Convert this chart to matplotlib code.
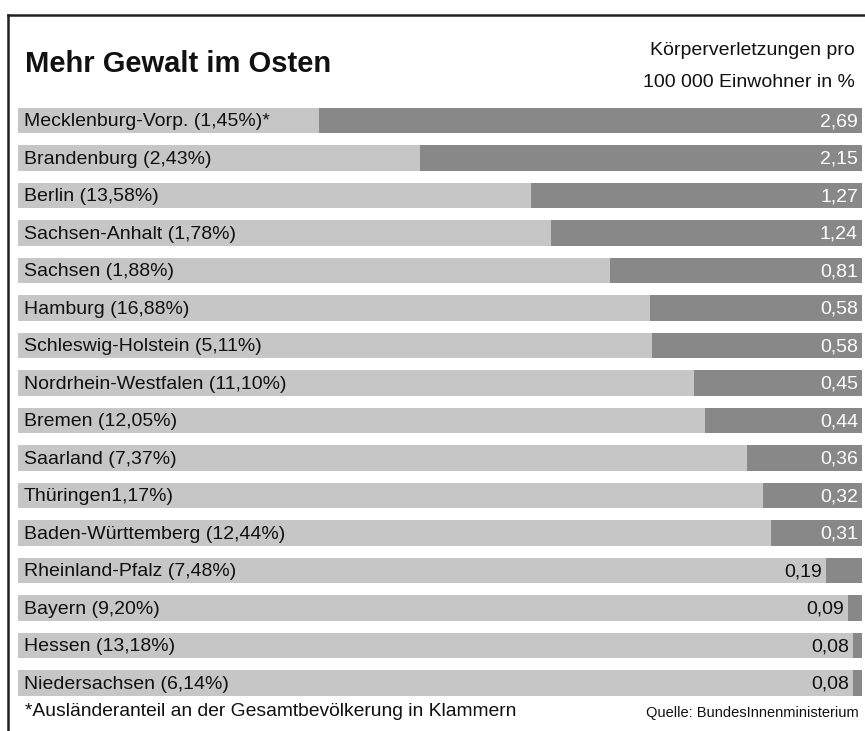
import matplotlib
matplotlib.use("Agg")
import matplotlib.pyplot as plt

plt.rcParams["font.family"] = ["Liberation Sans", "DejaVu Sans"]

# Data
states = [
    "Mecklenburg-Vorp. (1,45%)*", "Brandenburg (2,43%)", "Berlin (13,58%)",
    "Sachsen-Anhalt (1,78%)", "Sachsen (1,88%)", "Hamburg (16,88%)",
    "Schleswig-Holstein (5,11%)", "Nordrhein-Westfalen (11,10%)", "Bremen (12,05%)",
    "Saarland (7,37%)", "Thüringen1,17%)", "Baden-Württemberg (12,44%)",
    "Rheinland-Pfalz (7,48%)", "Bayern (9,20%)", "Hessen (13,18%)",
    "Niedersachsen (6,14%)",
]
values = [2.69, 2.15, 1.27, 1.24, 0.81, 0.58, 0.58, 0.45, 0.44, 0.36, 0.32,
          0.31, 0.19, 0.09, 0.08, 0.08]
# lengths of the dark bars as drawn in the original (same unit, not exactly to scale)
bar_len = [2.69, 2.19, 1.64, 1.54, 1.25, 1.05, 1.04, 0.83, 0.78, 0.57, 0.49,
           0.45, 0.18, 0.07, 0.045, 0.045]

light = "#c6c6c6"
dark = "#888888"
full = 4.18  # width of the light background bars

W, H = 865, 731
fig = plt.figure(figsize=(W / 100, H / 100), dpi=100)
fig.patch.set_facecolor("white")

# axes placed in pixel terms: bars from x=18 to x=862, rows from y=101.75 to 701.75
ax = fig.add_axes([18 / W, (H - 701.75) / H, 844 / W, 600 / H])
n = len(states)
ypos = list(range(n))
ax.barh(ypos, [full] * n, height=0.667, color=light, left=0)
ax.barh(ypos, bar_len, height=0.667, color=dark, left=0)
ax.set_xlim(full, 0)
ax.set_ylim(n - 0.5, -0.5)
ax.axis("off")

for i, (s, v, b) in enumerate(zip(states, values, bar_len)):
    ax.text(full - 0.03, i + 0.03, s, ha="left", va="center", fontsize=14, color="#111111")
    txt = f"{v:.2f}".replace(".", ",")
    if b > 0.3:
        ax.text(0.02, i + 0.03, txt, ha="right", va="center", fontsize=14, color="white")
    else:
        ax.text(b + 0.02, i + 0.03, txt, ha="right", va="center", fontsize=14, color="#111111")

# header
fig.text(25 / W, 1 - 72 / H, "Mehr Gewalt im Osten", fontsize=21, fontweight="bold",
         ha="left", va="baseline", color="#111111")
fig.text(855 / W, 1 - 55 / H, "Körperverletzungen pro", fontsize=14, ha="right",
         va="baseline", color="#111111")
fig.text(855 / W, 1 - 87 / H, "100 000 Einwohner in %", fontsize=14, ha="right",
         va="baseline", color="#111111")

# footer
fig.text(25 / W, 1 - 711 / H, "*Ausländeranteil an der Gesamtbevölkerung in Klammern",
         fontsize=13.9, ha="left", va="center", color="#111111")
fig.text(859 / W, 1 - 713 / H, "Quelle: BundesInnenministerium", fontsize=10.5,
         ha="right", va="center", color="#111111")

# frame lines (top and left)
fig.add_artist(plt.Line2D([8 / W, 1], [1 - 15 / H, 1 - 15 / H], color="#222222", lw=1.8))
fig.add_artist(plt.Line2D([8 / W, 8 / W], [1 - 15 / H, 0], color="#222222", lw=1.8))

fig.savefig("out.png", dpi=100, facecolor="white")
